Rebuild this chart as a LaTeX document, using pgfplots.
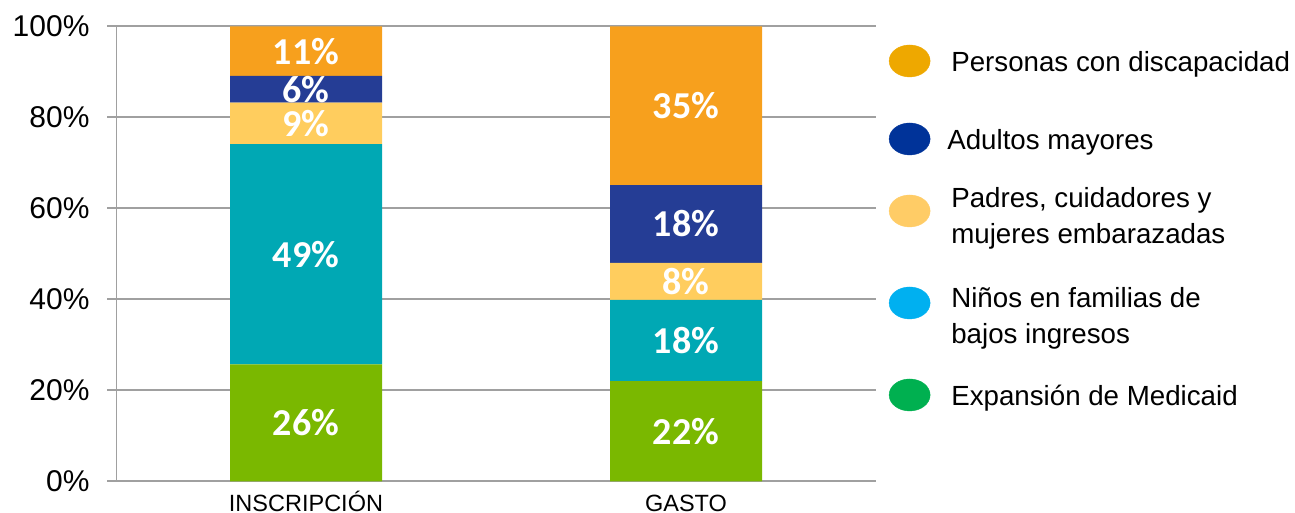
\documentclass[border=0pt]{standalone}
\usepackage{fontspec}
\setmainfont{Liberation Sans}
\newfontfamily\carlito{Carlito}
\usepackage{pgfplots}
\pgfplotsset{compat=1.18}
\definecolor{cOrange}{HTML}{F7A01D}
\definecolor{cNavy}{HTML}{253D95}
\definecolor{cYellow}{HTML}{FFCD5E}
\definecolor{cTeal}{HTML}{00A8B4}
\definecolor{cGreen}{HTML}{7AB800}
\definecolor{lOrange}{HTML}{EEA800}
\definecolor{lNavy}{HTML}{003399}
\definecolor{lYellow}{HTML}{FFCC66}
\definecolor{lCyan}{HTML}{00B0F0}
\definecolor{lGreen}{HTML}{00B050}
\definecolor{gridgray}{HTML}{A0A0A0}
\pgfplotsset{legell/.style 2 args={legend image code/.code={\fill[#1] (20.5pt,0pt) ellipse (20.5pt and 16pt); \path[draw=none,fill=none] (0,-#2) rectangle (41pt,#2);}}}
\begin{document}
\begin{tikzpicture}
\useasboundingbox (0,0) rectangle (1295pt,512pt);
\begin{axis}[
  at={(116pt,30.7pt)}, anchor=south west,
  scale only axis, width=760pt, height=455pt,
  ybar stacked, bar width=152pt,
  xmin=-0.5, xmax=1.5, ymin=0, ymax=100,
  xtick={0,1},
  xticklabels={INSCRIPCIÓN,GASTO},
  xticklabel style={font=\fontsize{23.5}{23.5}\selectfont, text height=21pt, text depth=0pt, inner sep=0pt, yshift=0.5pt},
  ytick={0,20,...,100}, ytick pos=left,
  yticklabel={\pgfmathprintnumber{\tick}\%},
  yticklabel style={font=\fontsize{30}{30}\selectfont, xshift=-14pt},
  /pgf/number format/assume math mode=true,
  axis line style={draw=none},
  ymajorgrids, grid style={draw=gridgray, line width=1.8pt},
  tick align=outside, major tick length=9pt,
  ytick style={draw=gridgray, line width=1.8pt},
  xtick style={draw=none},
  point meta=explicit symbolic,
  nodes near coords,
  every node near coord/.append style={anchor=center,
     font=\carlito\bfseries\fontsize{38}{38}\selectfont, text=white},
  legend style={at={(1.017,1.0095)}, anchor=north west, draw=none, fill=none,
     inner sep=0pt, outer sep=0pt, row sep=0pt, column sep=21pt,
     nodes={inner sep=0pt, outer sep=0pt},
     font=\fontsize{27.7}{35.5}\selectfont},
  legend cell align=left,
]
\addplot+[fill=cGreen, draw=none, forget plot] coordinates {(0,25.7) [26\%] (1,22.0) [22\%]};
\addplot+[fill=cTeal, draw=none, forget plot] coordinates {(0,48.4) [49\%] (1,17.85) [18\%]};
\addplot+[fill=cYellow, draw=none, forget plot] coordinates {(0,9.1) [9\%] (1,8.15) [8\%]};
\addplot+[fill=cNavy, draw=none, forget plot] coordinates {(0,5.9) [6\%] (1,17.1) [18\%]};
\addplot+[fill=cOrange, draw=none, forget plot] coordinates {(0,10.9) [11\%] (1,34.9) [35\%]};
\draw[gridgray, line width=1.8pt] (rel axis cs:0,0) -- (rel axis cs:0,1);
\addlegendimage{legell={lOrange}{39pt}}
\addlegendentry{\parbox[c][28pt][c]{340pt}{Personas con discapacidad}}
\addlegendimage{legell={lNavy}{39pt}}
\addlegendentry{\parbox[c][28pt][c]{340pt}{\hspace*{-4pt}Adultos mayores}}
\addlegendimage{legell={lYellow}{33pt}}
\addlegendentry{\parbox[c][44pt][c]{340pt}{Padres, cuidadores y\\mujeres embarazadas}}
\addlegendimage{legell={lCyan}{59pt}}
\addlegendentry{\parbox[c][76pt][c]{340pt}{Niños en familias de\\bajos ingresos}}
\addlegendimage{legell={lGreen}{33pt}}
\addlegendentry{\parbox[c][28pt][c]{340pt}{Expansión de Medicaid}}
\end{axis}
\end{tikzpicture}
\end{document}
